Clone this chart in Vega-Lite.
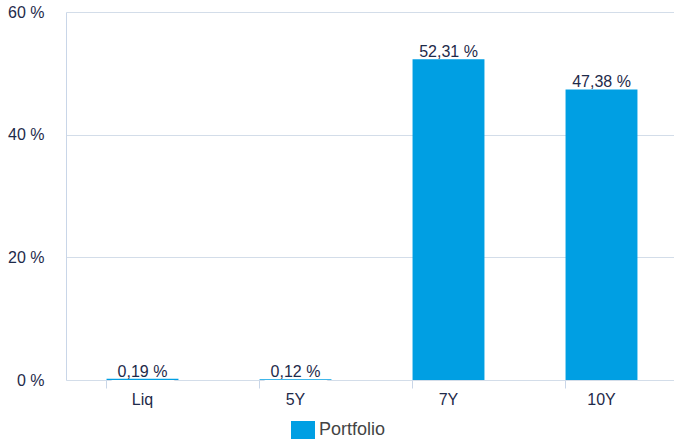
{
  "$schema": "https://vega.github.io/schema/vega-lite/v6.json",
  "width": 612,
  "height": 368,
  "autosize": {"type": "none"},
  "padding": {"left": 66, "top": 12, "right": 0, "bottom": 61},
  "background": "white",
  "data": {
    "values": [
      {"term": "Liq", "share": 0.0019, "series": "Portfolio"},
      {"term": "5Y", "share": 0.0012, "series": "Portfolio"},
      {"term": "7Y", "share": 0.5231, "series": "Portfolio"},
      {"term": "10Y", "share": 0.4738, "series": "Portfolio"}
    ]
  },
  "encoding": {
    "x": {
      "field": "term",
      "type": "nominal",
      "sort": null,
      "scale": {"paddingInner": 0.53, "paddingOuter": 0.265},
      "axis": {
        "title": null,
        "labelAngle": 0,
        "bandPosition": 0,
        "tickSize": 8,
        "tickColor": "#c9d6e8",
        "domain": false,
        "labelPadding": 3,
        "labelFont": "Liberation Sans",
        "labelFontSize": 16,
        "labelColor": "#1e2a4a",
        "grid": false
      }
    },
    "y": {
      "field": "share",
      "type": "quantitative",
      "scale": {"domain": [0, 0.6], "nice": false},
      "axis": {
        "title": null,
        "format": ".0%",
        "values": [0, 0.2, 0.4, 0.6],
        "ticks": false,
        "labelPadding": 22,
        "domain": true,
        "domainColor": "#c9d6e8",
        "grid": true,
        "gridColor": "#d3dde9",
        "labelFont": "Liberation Sans",
        "labelFontSize": 16,
        "labelColor": "#1e2a4a"
      }
    }
  },
  "layer": [
    {
      "mark": {
        "type": "text",
        "baseline": "alphabetic",
        "dy": -2,
        "font": "Liberation Sans",
        "fontSize": 16,
        "stroke": "white",
        "strokeWidth": 18,
        "strokeJoin": "round",
        "fill": "white"
      },
      "encoding": {"text": {"field": "share", "type": "quantitative", "format": ".2%"}}
    },
    {
      "mark": {"type": "bar"},
      "encoding": {
        "color": {
          "field": "series",
          "type": "nominal",
          "scale": {"range": ["#009fe3"]},
          "legend": {
            "title": null,
            "orient": "none",
            "legendX": 227,
            "legendY": 408,
            "symbolType": "M-1.2,-0.9L1.2,-0.9L1.2,0.9L-1.2,0.9Z",
            "symbolSize": 400,
            "symbolStrokeWidth": 0,
            "labelFont": "Liberation Sans",
            "labelFontSize": 18,
            "labelColor": "#444444",
            "labelOffset": 6,
            "padding": 0
          }
        }
      }
    },
    {
      "mark": {
        "type": "text",
        "baseline": "alphabetic",
        "dy": -2,
        "font": "Liberation Sans",
        "fontSize": 16,
        "fill": "#1e2a4a"
      },
      "encoding": {"text": {"field": "share", "type": "quantitative", "format": ".2%"}}
    }
  ],
  "config": {
    "view": {"stroke": null},
    "locale": {
      "number": {
        "decimal": ",",
        "thousands": ".",
        "grouping": [3],
        "currency": ["", " €"],
        "percent": " %"
      }
    }
  }
}
